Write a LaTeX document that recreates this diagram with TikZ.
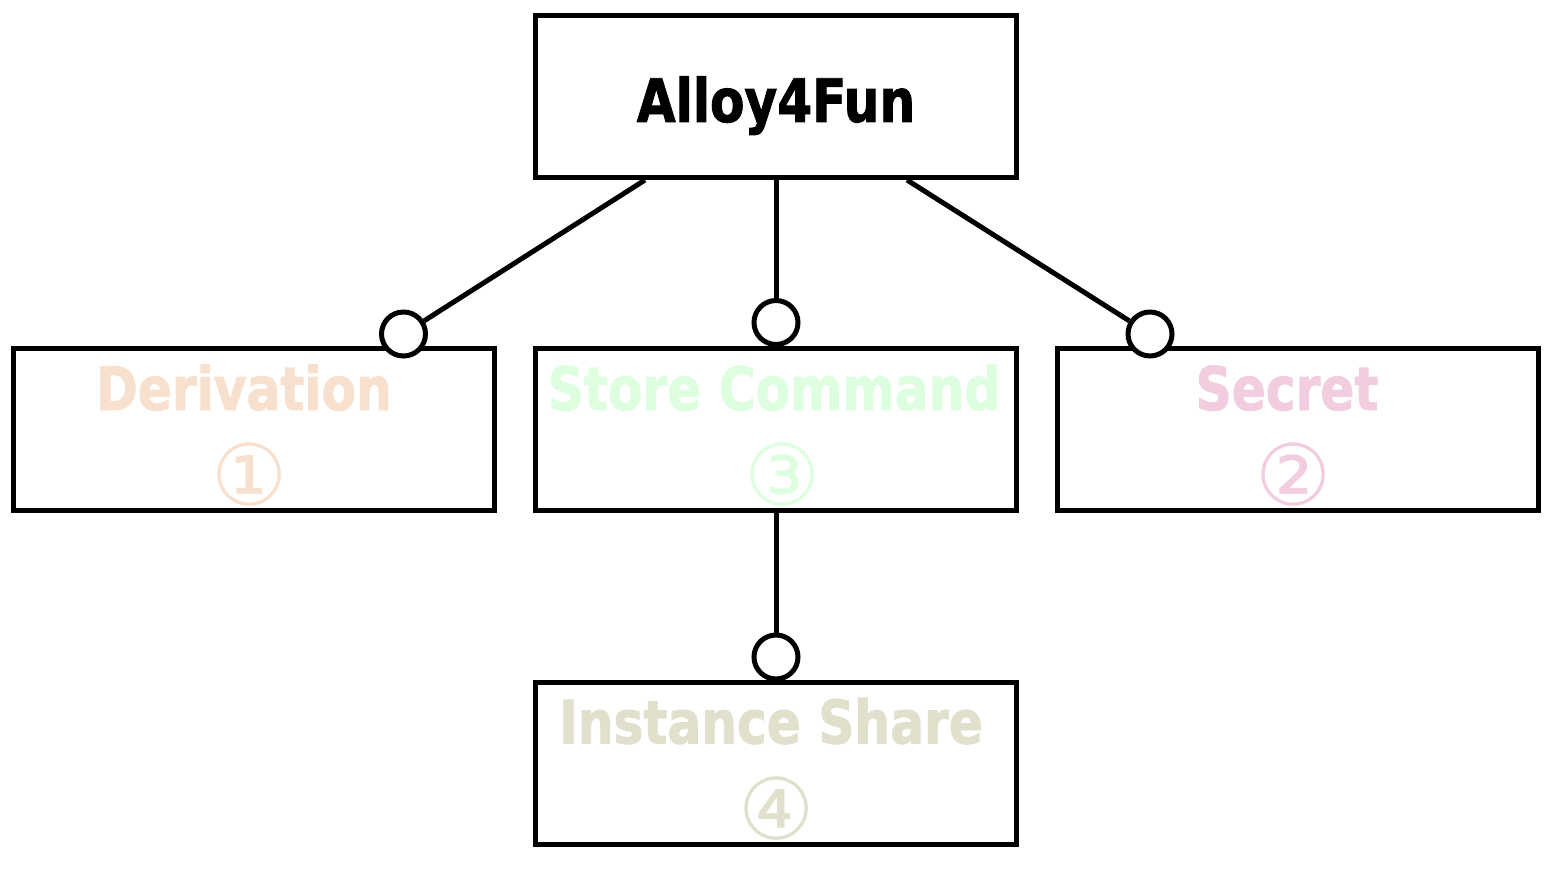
\documentclass[tikz,border=0pt]{standalone}
\usepackage{fontspec}
\usetikzlibrary{calc}

\newfontfamily\titlefont{DejaVu Sans Condensed}[FakeStretch=0.93,BoldFeatures={FakeBold=1.5}]
\newfontfamily\numfont{DejaVu Sans}

\definecolor{derivcol}{HTML}{F8E0CE}
\definecolor{storecol}{HTML}{DDFFE0}
\definecolor{secretcol}{HTML}{F2CDE0}
\definecolor{sharecol}{HTML}{E0E0CC}

\tikzset{
	box/.style={draw,line width=5pt,minimum width=481pt,minimum height=162pt,inner sep=0pt},
	port/.style={draw,circle,fill=white,line width=5pt,inner sep=0pt,minimum size=44pt},
	link/.style={line width=5pt},
	boxtext/.style={anchor=base,inner sep=0pt,font=\titlefont\bfseries\fontsize{60}{72}\selectfont},
	numtext/.style={inner sep=0pt,font=\numfont\fontsize{85}{90}\selectfont}
}

\begin{document}
\begin{tikzpicture}[x=1pt,y=-1pt]

\useasboundingbox (0,0) rectangle (1555,877);

% root
\node [box] (a4f) at (776,96.5) {};
\node [boxtext] (a4f-txt) at ($(a4f.north)+(0,109)$) {Alloy4Fun};

% features
\foreach \name/\x/\y/\txt/\tdx/\num/\ndx/\col in {
	deriv/254/429.5/Derivation/-10/①/-4/derivcol,
	store/776/429.5/Store Command/-2/③/7/storecol,
	secret/1298/429.5/Secret/-11/②/-4/secretcol,
	share/776/763/Instance Share/-5/④/1/sharecol} {
	
	\node [box] (\name) at (\x,\y) {};
	
	\node [boxtext,text=\col] (\name-txt) at ($(\name.north)+(\tdx,64)$) {\txt};
	\node [numtext,text=\col] (\name-num) at ($(\name.north)+(\ndx,129)$) {\num};
}

\coordinate (a4f-l) at ($(a4f.south)+(-131,0)$);
\coordinate (a4f-r) at ($(a4f.south)+(131,0)$);

\node [port] (p-deriv) at (403.5,334) {};
\node [port] (p-store) at (776,322.5) {};
\node [port] (p-secret) at (1150,334) {};
\node [port] (p-share) at (776,657) {};

\draw [link] (a4f-l) to (p-deriv);
\draw [link] (a4f.south) to (p-store);
\draw [link] (a4f-r) to (p-secret);
\draw [link] (store.south) to (p-share);

\end{tikzpicture}
\end{document}
